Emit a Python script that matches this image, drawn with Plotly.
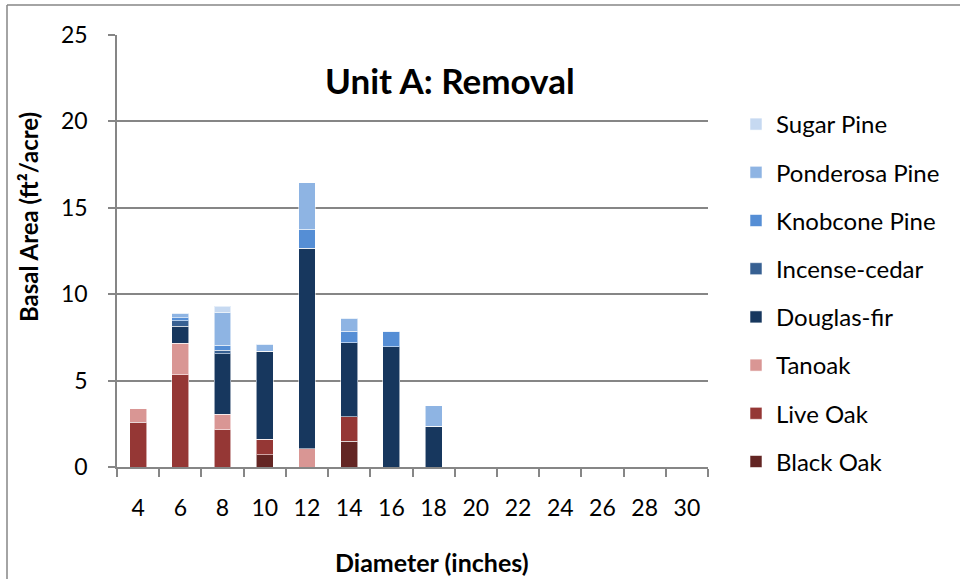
import plotly.graph_objects as go

# Diameter classes (inches)
diameters = ["4", "6", "8", "10", "12", "14", "16", "18", "20", "22", "24", "26", "28", "30"]

# Basal area removed (ft²/acre) by species and diameter class
black_oak     = [0,    0,    0,    0.7,  0,    1.5,  0,    0,    0, 0, 0, 0, 0, 0]
live_oak      = [2.6,  5.35, 2.15, 0.9,  0,    1.4,  0,    0,    0, 0, 0, 0, 0, 0]
tanoak        = [0.8,  1.8,  0.9,  0,    1.05, 0,    0,    0,    0, 0, 0, 0, 0, 0]
douglas_fir   = [0,    1.0,  3.5,  5.1,  11.6, 4.3,  6.95, 2.35, 0, 0, 0, 0, 0, 0]
incense_cedar = [0,    0.3,  0.2,  0,    0,    0,    0,    0,    0, 0, 0, 0, 0, 0]
knobcone_pine = [0,    0.2,  0.3,  0,    1.1,  0.65, 0.9,  0,    0, 0, 0, 0, 0, 0]
ponderosa     = [0,    0.25, 1.9,  0.4,  2.7,  0.75, 0,    1.2,  0, 0, 0, 0, 0, 0]
sugar_pine    = [0,    0,    0.35, 0,    0,    0,    0,    0,    0, 0, 0, 0, 0, 0]

series = [
    ("Black Oak", black_oak, "#632523"),
    ("Live Oak", live_oak, "#953735"),
    ("Tanoak", tanoak, "#D99694"),
    ("Douglas-fir", douglas_fir, "#17375E"),
    ("Incense-cedar", incense_cedar, "#376092"),
    ("Knobcone Pine", knobcone_pine, "#558ED5"),
    ("Ponderosa Pine", ponderosa, "#8EB4E3"),
    ("Sugar Pine", sugar_pine, "#C6D9F1"),
]

FONT = "Lato"
GRID = "#868686"

fig = go.Figure()
for i, (name, vals, color) in enumerate(series):
    fig.add_trace(go.Bar(
        x=diameters, y=vals, name=name, legendgroup=name,
        legendrank=100 - i,  # top of the stack listed first
        marker=dict(color=color, line=dict(color="rgba(255,255,255,0.55)", width=1)),
    ))

L, R, T, B = 117, 252, 35, 112
W, H = 960, 579
pw, ph = W - L - R, H - T - B

def px(x):
    return (x - L) / pw

def py(y):
    return (H - B - y) / ph

fig.update_layout(
    width=W, height=H,
    margin=dict(l=L, r=R, t=T, b=B),
    barmode="stack", bargap=0.6,
    plot_bgcolor="white", paper_bgcolor="white",
    font=dict(family=FONT, size=24, color="#000000"),
    legend=dict(
        x=px(736), y=py(102), xanchor="left", yanchor="top",
        traceorder="grouped", tracegroupgap=14,
        itemwidth=30, font=dict(size=24),
        bgcolor="rgba(0,0,0,0)",
    ),
    xaxis=dict(
        type="category", showline=True, linecolor=GRID, linewidth=1.5,
        ticks="outside", tickson="boundaries", ticklen=8, tickcolor=GRID, tickwidth=1.5,
        showgrid=False, ticklabelstandoff=20, tickfont=dict(size=23),
    ),
    yaxis=dict(
        range=[0, 25], dtick=5, showline=True, linecolor=GRID, linewidth=1.5,
        ticks="outside", ticklen=7, tickcolor=GRID, tickwidth=1.5,
        showgrid=True, gridcolor=GRID, gridwidth=1.5, zeroline=False,
        ticklabelstandoff=16, tickfont=dict(size=23),
    ),
    annotations=[
        dict(text="<b>Unit A: Removal</b>", x=px(450), y=py(80), xref="paper", yref="paper",
             xanchor="center", yanchor="middle", showarrow=False, font=dict(size=35)),
        dict(text="<b>Diameter (inches)</b>", x=px(432), y=py(562), xref="paper", yref="paper",
             xanchor="center", yanchor="middle", showarrow=False, font=dict(size=25)),
        dict(text="<b>Basal Area (ft²/acre)</b>", x=px(28), y=py(217), xref="paper", yref="paper",
             xanchor="center", yanchor="middle", showarrow=False, textangle=-90, font=dict(size=24)),
    ],
    shapes=[
        # chart frame
        dict(type="line", xref="paper", yref="paper", x0=px(7), x1=px(1000), y0=py(5), y1=py(5),
             line=dict(color=GRID, width=1.5)),
        dict(type="line", xref="paper", yref="paper", x0=px(7), x1=px(7), y0=py(5), y1=py(620),
             line=dict(color=GRID, width=1.5)),
    ],
)

fig.write_html("out.html")
